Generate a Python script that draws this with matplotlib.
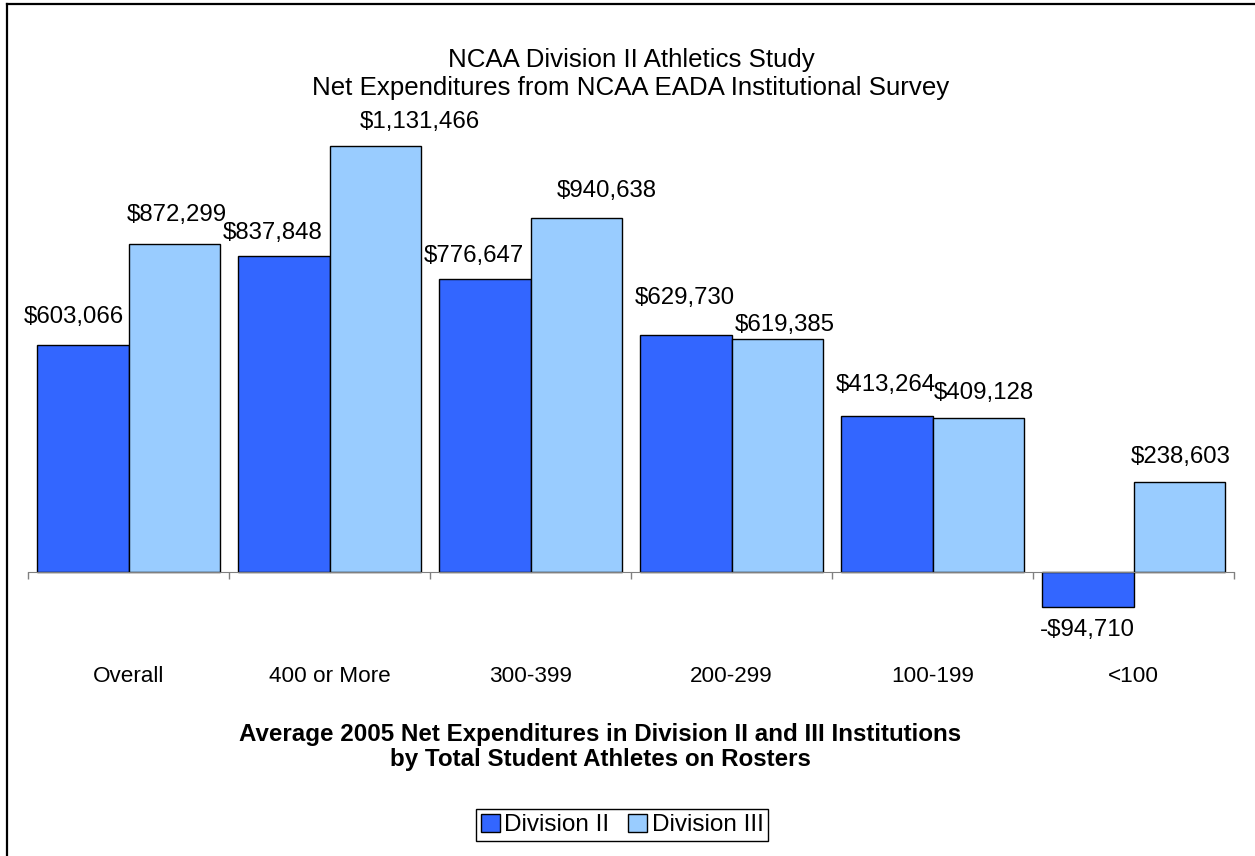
import matplotlib
matplotlib.use('Agg')
import matplotlib.pyplot as plt
import matplotlib.transforms as mtransforms
from matplotlib.lines import Line2D
from matplotlib.patches import Patch
import numpy as np

categories = ['Overall', '400 or More', '300-399', '200-299', '100-199', '<100']
div2 = [603066, 837848, 776647, 629730, 413264, -94710]
div3 = [872299, 1131466, 940638, 619385, 409128, 238603]
series_names = ['Division II', 'Division III']

title = 'NCAA Division II Athletics Study\nNet Expenditures from NCAA EADA Institutional Survey'
caption = ('Average 2005 Net Expenditures in Division II and III Institutions\n'
           'by Total Student Athletes on Rosters')

# hand-placed label nudges from the original (pixels: dx, distance from bar end)
div2_nudge = [(-9, 28), (-11, 23), (-11, 23), (-1, 37), (-1, 31), (0, 23)]
div3_nudge = [(3, 29), (45, 24), (31, 27), (8, 14), (6, 25), (1, 25)]

plt.rcParams['font.family'] = ['Liberation Sans', 'DejaVu Sans']

W, H = 1255, 856
fig = plt.figure(figsize=(W / 100, H / 100), dpi=100)

# axes placed in pixel terms
x0, x1 = 28, 1234
ytop, ybot, yzero = 100, 700, 571.7
ax = fig.add_axes([x0 / W, 1 - ybot / H, (x1 - x0) / W, (ybot - ytop) / H])
k = (yzero - 146) / max(div3)   # px per dollar
ax.set_ylim(-(ybot - yzero) / k, (yzero - ytop) / k)
ax.set_xlim(-0.5, len(categories) - 0.5)

x = np.arange(len(categories))
bw = 0.455
c2, c3 = '#3366FF', '#99CCFF'
ax.bar(x - bw / 2, div2, bw, color=c2, edgecolor='black', linewidth=1.0, zorder=3)
ax.bar(x + bw / 2, div3, bw, color=c3, edgecolor='black', linewidth=1.0, zorder=3)

for xs, vals, nudges in ((x - bw / 2, div2, div2_nudge), (x + bw / 2, div3, div3_nudge)):
    for xi, v, (dx, dy) in zip(xs, vals, nudges):
        txt = f'${v:,}' if v >= 0 else f'-${-v:,}'
        ax.annotate(txt, (xi, v), xytext=(dx, dy if v >= 0 else -dy),
                    textcoords='offset pixels', ha='center', va='center',
                    fontsize=17.3)

for s in ('top', 'right', 'left'):
    ax.spines[s].set_visible(False)
ax.spines['bottom'].set_position(('data', 0))
ax.spines['bottom'].set_color('#808080')
ax.spines['bottom'].set_zorder(4)
ax.set_yticks([])
ax.set_xticks([])
ax.set_xticks(np.arange(-0.5, len(categories)), minor=True)
ax.tick_params(axis='x', which='minor', length=5, width=1, color='#808080',
               direction='out', labelbottom=False)
ax.patch.set_visible(False)

trans = mtransforms.blended_transform_factory(ax.transData, fig.transFigure)
for xi, c in zip(x, categories):
    ax.text(xi, 1 - 676 / H, c, transform=trans, ha='center', va='center', fontsize=16.2)

fig.text(631 / W, 1 - 74 / H, title, ha='center', va='center', fontsize=18.6,
         linespacing=1.2)
fig.text(600 / W, 1 - 747 / H, caption, ha='center', va='center', fontsize=17.4,
         fontweight='bold', linespacing=1.15)

handles = [Patch(facecolor=c2, edgecolor='black', linewidth=1),
           Patch(facecolor=c3, edgecolor='black', linewidth=1)]
leg = fig.legend(handles, series_names, loc='center', bbox_to_anchor=(622 / W, 1 - 825 / H),
                 ncol=2, fontsize=17.5, frameon=True, fancybox=False, framealpha=1,
                 edgecolor='black', handlelength=0.78, handleheight=0.78,
                 handletextpad=0.2, columnspacing=0.75, borderpad=0.2,
                 borderaxespad=0)
leg.get_frame().set_linewidth(1.0)

# outer border (only top and left visible in the original)
fig.add_artist(Line2D([7 / W, 1], [1 - 4 / H, 1 - 4 / H], color='black', linewidth=1.6))
fig.add_artist(Line2D([7 / W, 7 / W], [0, 1 - 4 / H], color='black', linewidth=1.6))

fig.savefig('out.png', dpi=100)
